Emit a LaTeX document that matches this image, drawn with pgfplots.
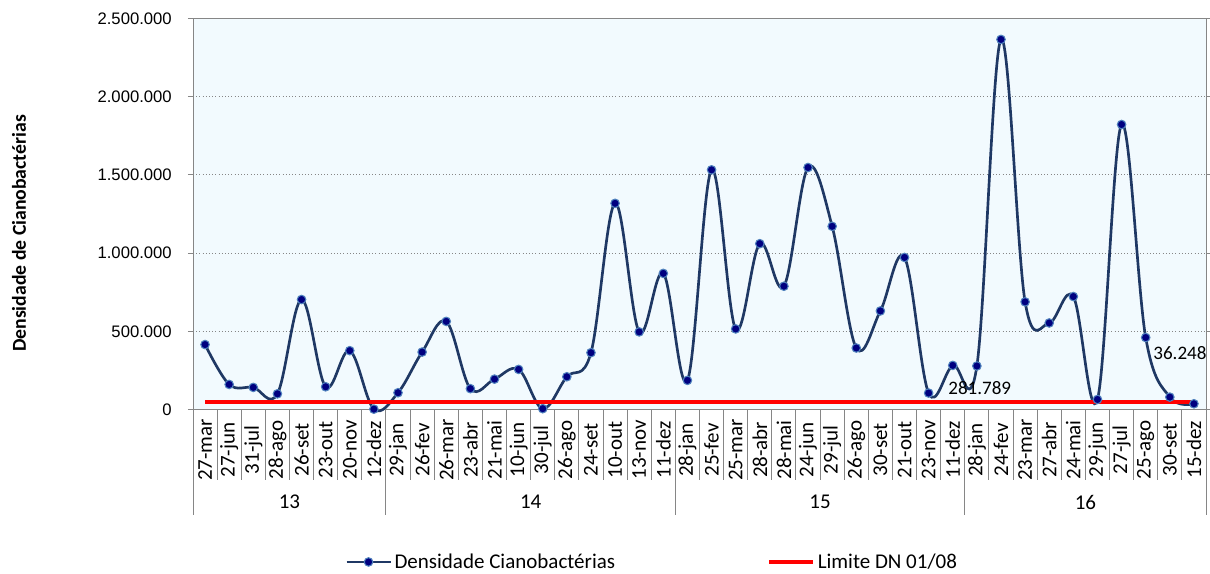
\documentclass[border=0pt]{standalone}
\usepackage{fontspec}
\setmainfont{Carlito}
\newfontfamily\arialfont{Liberation Sans}
\usepackage{pgfplots}
\pgfplotsset{compat=1.18}
\definecolor{bgblue}{HTML}{F2FAFE}
\definecolor{navyline}{HTML}{1F3864}
\definecolor{markfill}{HTML}{000080}
\definecolor{markring}{HTML}{4F81BD}
\definecolor{axgray}{HTML}{868686}
\begin{document}
\begin{tikzpicture}
\useasboundingbox (0,0) rectangle (907.5pt,430.5pt);
\begin{axis}[
  at={(144.75pt,123.4pt)}, anchor=south west,
  scale only axis, width=759.75pt, height=293.25pt,
  xmin=0, xmax=42, ymin=0, ymax=2500000,
  axis background/.style={fill=bgblue},
  axis line style={axgray, line width=0.75pt},
  clip=false,
  xtick={0.5,1.5,...,41.5},
  xticklabels={27-mar,27-jun,31-jul,28-ago,26-set,23-out,20-nov,12-dez,
    29-jan,26-fev,26-mar,23-abr,21-mai,10-jun,30-jul,26-ago,24-set,10-out,13-nov,11-dez,
    28-jan,25-fev,25-mar,28-abr,28-mai,24-jun,29-jul,26-ago,30-set,21-out,23-nov,11-dez,
    28-jan,24-fev,23-mar,27-abr,24-mai,29-jun,27-jul,25-ago,30-set,15-dez},
  xtick style={draw=none},
  xticklabel style={rotate=90, anchor=center, font=\fontsize{15.75}{18}\selectfont},
  xticklabel shift=26.6pt,
  ytick={0,500000,1000000,1500000,2000000,2500000},
  yticklabels={0,500.000,1.000.000,1.500.000,2.000.000,2.500.000},
  scaled y ticks=false,
  ytick style={axgray, line width=0.75pt},
  tick align=outside, major tick length=3.75pt,
  yticklabel style={font=\arialfont\fontsize{12.5}{15}\selectfont, anchor=east, inner sep=0pt},
  yticklabel shift=12pt,
  ymajorgrids,
  major grid style={axgray, dotted, line width=0.75pt},
  ylabel={Densidade de Cianobactérias},
  ylabel style={font=\bfseries\fontsize{14.8}{17}\selectfont, at={(axis description cs:-0.1718,0.45)}, anchor=center},
  legend columns=2,
  legend cell align=left,
  legend style={at={(0.150,-0.390)}, anchor=west, draw=none, fill=none,
    font=\fontsize{15.75}{18}\selectfont, inner sep=0pt,
    /tikz/every even column/.append style={column sep=112pt}},
  legend image code/.code={\draw[mark repeat=2,mark phase=2,#1] plot coordinates {(0pt,0pt) (16.5pt,0pt) (33pt,0pt)};},
]
\addplot[navyline, line width=2pt, smooth, tension=0.6, mark=*, mark size=3.2pt,
  mark options={fill=markfill, draw=markring, line width=0.8pt, solid}] coordinates {
  (0.5,415000) (1.5,160000) (2.5,141000) (3.5,100000) (4.5,703000) (5.5,145000) (6.5,376000) (7.5,2000)
  (8.5,107000) (9.5,367000) (10.5,563000) (11.5,133000) (12.5,194000) (13.5,256000) (14.5,5000) (15.5,209000)
  (16.5,363000) (17.5,1318000) (18.5,496000) (19.5,870000)
  (20.5,186000) (21.5,1532000) (22.5,515000) (23.5,1060000) (24.5,788000) (25.5,1547000) (26.5,1171000) (27.5,393000)
  (28.5,630000) (29.5,972000) (30.5,105000) (31.5,281789)
  (32.5,278000) (33.5,2366000) (34.5,688000) (35.5,553000) (36.5,722000) (37.5,64000) (38.5,1822000) (39.5,460000)
  (40.5,79000) (41.5,36248)
};
\addlegendentry{Densidade Cianobactérias}
\addplot[red, line width=3pt] coordinates {(0.5,50000) (41.5,50000)};
\addlegendentry{Limite DN 01/08}
\pgfplotsinvokeforeach{1,...,41}{\draw[axgray, line width=0.75pt] (axis cs:#1,0) -- ++(0pt,-52.9pt);}
\pgfplotsinvokeforeach{0,8,20,32,42}{\draw[axgray, line width=0.75pt] (axis cs:#1,0) -- ++(0pt,-79.1pt);}
\node[font=\fontsize{15.75}{18}\selectfont] at (axis cs:4,0) [yshift=-69.4pt] {13};
\node[font=\fontsize{15.75}{18}\selectfont] at (axis cs:14,0) [yshift=-69.4pt] {14};
\node[font=\fontsize{15.75}{18}\selectfont] at (axis cs:26,0) [yshift=-69.4pt] {15};
\node[font=\fontsize{15.75}{18}\selectfont] at (axis cs:37,0) [yshift=-69.4pt] {16};
\node[font=\fontsize{14.3}{17}\selectfont] at (axis cs:31.5,281789) [xshift=20.25pt, yshift=-17.25pt] {281.789};
\node[font=\fontsize{14.3}{17}\selectfont] at (axis cs:41.5,36248) [xshift=-10.5pt, yshift=38.25pt] {36.248};
\end{axis}
\end{tikzpicture}
\end{document}
